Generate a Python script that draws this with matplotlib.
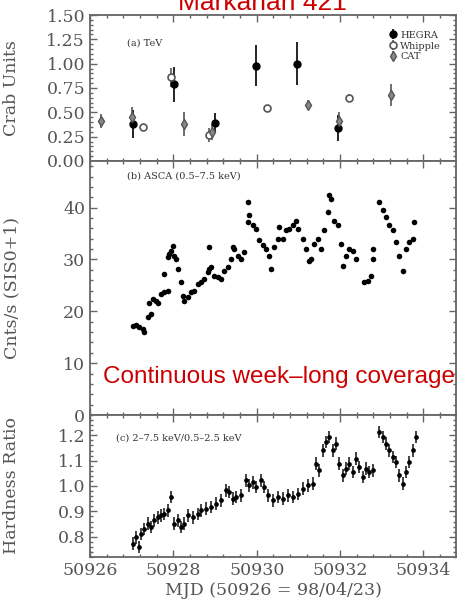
import numpy as np
import matplotlib
matplotlib.use("Agg")
import matplotlib.pyplot as plt
from matplotlib.ticker import MultipleLocator, FormatStrFormatter

# (a) TeV light curve, Crab units
hegra_t = [50927.02, 50928.02, 50929.00, 50929.98, 50930.96, 50931.94]
hegra_f = [0.38, 0.79, 0.39, 0.98, 1.00, 0.34]
hegra_e = [0.14, 0.18, 0.10, 0.21, 0.22, 0.13]

whipple_t = [50927.26, 50927.94, 50928.86, 50930.24, 50932.22]
whipple_f = [0.35, 0.86, 0.27, 0.54, 0.65]
whipple_e = [0.03, 0.10, 0.07, 0.04, 0.04]

cat_t = [50926.26, 50927.00, 50928.26, 50928.92, 50931.23, 50931.98, 50933.22]
cat_f = [0.41, 0.45, 0.38, 0.30, 0.58, 0.41, 0.68]
cat_e = [0.07, 0.10, 0.12, 0.08, 0.05, 0.09, 0.11]

# (b) ASCA 0.5-7.5 keV count rate
asca_t = [50927.03, 50927.10, 50927.18, 50927.27, 50927.29, 50927.39, 50927.46,
          50927.41, 50927.51, 50927.58, 50927.63, 50927.70, 50927.77, 50927.87,
          50927.77, 50927.87, 50927.89, 50927.94, 50927.99, 50928.01, 50928.06,
          50928.11, 50928.18, 50928.23, 50928.25, 50928.35, 50928.42, 50928.49,
          50928.59, 50928.66, 50928.73, 50928.83, 50928.85, 50928.90, 50928.85,
          50928.97, 50929.07, 50929.14, 50929.21, 50929.31, 50929.38, 50929.43,
          50929.45, 50929.55, 50929.62, 50929.69, 50929.78, 50929.82, 50929.78,
          50929.90, 50929.98, 50930.06, 50930.14, 50930.22, 50930.30, 50930.34,
          50930.42, 50930.50, 50930.54, 50930.62, 50930.70, 50930.78, 50930.86,
          50930.94, 50930.98, 50931.10, 50931.18, 50931.26, 50931.30, 50931.38,
          50931.46, 50931.54, 50931.62, 50931.70, 50931.74, 50931.78, 50931.86,
          50931.94, 50932.02, 50932.06, 50932.14, 50932.22, 50932.30, 50932.38,
          50932.58, 50932.66, 50932.74, 50932.78, 50932.78, 50932.94, 50933.02,
          50933.10, 50933.18, 50933.26, 50933.34, 50933.42, 50933.50, 50933.58,
          50933.66, 50933.74, 50933.78]
asca_c = [17.1, 17.3, 16.9, 16.5, 16.1, 19.0, 19.4,
          21.7, 22.3, 21.9, 21.7, 23.3, 23.7, 23.9,
          27.2, 30.5, 31.1, 31.7, 32.6, 30.7, 30.1,
          28.2, 25.6, 22.9, 21.9, 22.7, 23.7, 23.9,
          25.2, 25.6, 26.2, 27.6, 28.2, 28.5, 32.4,
          26.8, 26.6, 26.2, 27.8, 28.5, 30.1, 32.4,
          32.0, 30.7, 30.1, 31.5, 37.2, 38.5, 41.1,
          36.6, 35.9, 33.7, 32.7, 32.0, 30.7, 28.2,
          32.4, 34.0, 36.2, 34.0, 35.6, 35.9, 36.6,
          37.5, 35.9, 34.0, 32.0, 29.8, 30.1, 33.0,
          34.0, 32.0, 35.6, 39.2, 42.4, 41.7, 37.5,
          36.6, 33.0, 28.8, 30.7, 32.0, 31.7, 30.1,
          25.6, 25.9, 26.9, 30.1, 32.0, 41.1, 39.5,
          38.2, 36.6, 35.6, 33.3, 30.7, 27.8, 32.0,
          33.3, 34.0, 37.2]

# (c) hardness ratio 2-7.5 keV / 0.5-2.5 keV
hr_t = [50927.02, 50927.10, 50927.18, 50927.22, 50927.30, 50927.38, 50927.46,
        50927.54, 50927.62, 50927.70, 50927.78, 50927.86, 50927.94, 50928.02,
        50928.10, 50928.18, 50928.26, 50928.34, 50928.46, 50928.58, 50928.66,
        50928.78, 50928.90, 50929.02, 50929.14, 50929.26, 50929.34, 50929.42,
        50929.50, 50929.62, 50929.74, 50929.82, 50929.90, 50929.98, 50930.10,
        50930.18, 50930.26, 50930.38, 50930.50, 50930.62, 50930.74, 50930.86,
        50930.98, 50931.10, 50931.22, 50931.34, 50931.42, 50931.50, 50931.58,
        50931.66, 50931.74, 50931.82, 50931.90, 50931.98, 50932.06, 50932.14,
        50932.22, 50932.30, 50932.38, 50932.46, 50932.54, 50932.62, 50932.70,
        50932.78, 50932.94, 50933.02, 50933.10, 50933.18, 50933.26, 50933.34,
        50933.42, 50933.50, 50933.58, 50933.66, 50933.74, 50933.82]
hr_v = [0.772, 0.798, 0.759, 0.811, 0.831, 0.851, 0.838,
        0.864, 0.877, 0.884, 0.890, 0.904, 0.956, 0.851,
        0.864, 0.838, 0.851, 0.884, 0.877, 0.890, 0.904,
        0.910, 0.917, 0.930, 0.943, 0.983, 0.976, 0.950,
        0.956, 0.963, 1.022, 1.002, 1.015, 0.996, 1.022,
        0.996, 0.963, 0.943, 0.956, 0.950, 0.963, 0.956,
        0.969, 0.989, 1.002, 1.009, 1.088, 1.062, 1.141,
        1.174, 1.193, 1.141, 1.167, 1.088, 1.042, 1.068,
        1.088, 1.055, 1.108, 1.075, 1.035, 1.068, 1.055,
        1.062, 1.213, 1.193, 1.167, 1.141, 1.114, 1.095,
        1.042, 1.009, 1.055, 1.095, 1.141, 1.193]
hr_err = 0.025

frame_col = "#666666"
text_col = "#555555"
red = "#cc0000"

plt.rcParams["font.family"] = "DejaVu Serif"

fig = plt.figure(figsize=(4.66, 6.06), dpi=100)
L, W = 90 / 466, (456 - 90) / 466
def box(top, bot):
    return [L, 1 - bot / 606, W, (bot - top) / 606]

ax_a = fig.add_axes(box(15, 161))
ax_b = fig.add_axes(box(161, 415), sharex=ax_a)
ax_c = fig.add_axes(box(415, 557), sharex=ax_a)

for ax in (ax_a, ax_b, ax_c):
    ax.tick_params(which="both", direction="in", top=True, right=True,
                   colors=frame_col, labelcolor=text_col, labelsize=12.5, width=1.0)
    ax.tick_params(which="major", length=5)
    ax.tick_params(which="minor", length=2.5)
    for s in ax.spines.values():
        s.set_color(frame_col)
        s.set_linewidth(1.3)
    ax.xaxis.set_major_locator(MultipleLocator(2))
    ax.xaxis.set_minor_locator(MultipleLocator(0.4))
    ax.yaxis.set_label_coords(-0.19, 0.5)

ax_a.set_xlim(50926.0, 50934.78)
for ax in (ax_a, ax_b):
    ax.tick_params(labelbottom=False)

# panel a
ax_a.errorbar(hegra_t, hegra_f, yerr=hegra_e, fmt="o", ms=5, color="black",
              mfc="black", elinewidth=1.2, capsize=0, label="HEGRA")
ax_a.errorbar(whipple_t, whipple_f, yerr=whipple_e, fmt="o", ms=5, color="#555555",
              mfc="white", mew=1.2, elinewidth=1.2, capsize=0, label="Whipple")
ax_a.errorbar(cat_t, cat_f, yerr=cat_e, fmt="d", ms=5, color="#555555",
              mfc="#888888", elinewidth=1.2, capsize=0, label="CAT")
ax_a.set_ylim(0, 1.5)
ax_a.yaxis.set_major_locator(MultipleLocator(0.25))
ax_a.yaxis.set_minor_locator(MultipleLocator(0.05))
ax_a.yaxis.set_major_formatter(FormatStrFormatter("%.2f"))
ax_a.set_ylabel("Crab Units", fontsize=12.5, color=text_col)
ax_a.text(0.1, 0.79, "(a) TeV", transform=ax_a.transAxes, fontsize=7, color="#333333")
leg = ax_a.legend(loc="upper right", frameon=False, fontsize=7, handlelength=0.6,
                  handletextpad=0.5, labelspacing=0.2, borderaxespad=0.0,
                  bbox_to_anchor=(0.97, 0.92))
for t in leg.get_texts():
    t.set_color("#333333")

# panel b
ax_b.plot(asca_t, asca_c, "o", ms=4, color="black", mew=0)
ax_b.set_ylim(0, 49)
ax_b.yaxis.set_major_locator(MultipleLocator(10))
ax_b.yaxis.set_minor_locator(MultipleLocator(2))
ax_b.set_ylabel("Cnts/s (SIS0+1)", fontsize=12.5, color=text_col)
ax_b.text(0.1, 0.93, "(b) ASCA (0.5\u20137.5 keV)", transform=ax_b.transAxes,
          fontsize=7, color="#333333")

# panel c
ax_c.errorbar(hr_t, hr_v, yerr=hr_err, fmt="o", ms=3.4, color="black", mew=0,
              elinewidth=1.2, ecolor="#222222", capsize=0)
ax_c.set_ylim(0.72, 1.28)
ax_c.yaxis.set_major_locator(MultipleLocator(0.1))
ax_c.yaxis.set_minor_locator(MultipleLocator(0.02))
ax_c.yaxis.set_major_formatter(FormatStrFormatter("%.1f"))
ax_c.set_ylabel("Hardness Ratio", fontsize=12.5, color=text_col)
ax_c.set_xlabel("MJD (50926 = 98/04/23)", fontsize=12.5, color=text_col, labelpad=2)
ax_c.xaxis.set_major_formatter(FormatStrFormatter("%d"))
ax_c.text(0.07, 0.82, "(c) 2\u20137.5 keV/0.5\u20132.5 keV", transform=ax_c.transAxes,
          fontsize=7, color="#333333")

# red annotations
fig.text(262 / 466, 1 - 10 / 606, "Markarian 421", color=red, fontsize=19,
         family="Liberation Sans", ha="center", va="baseline")
fig.text(103 / 466, 1 - 383 / 606, "Continuous week\u2013long coverage", color=red,
         fontsize=17.5, family="Liberation Sans", ha="left", va="baseline")

fig.savefig("out.png", dpi=100)
